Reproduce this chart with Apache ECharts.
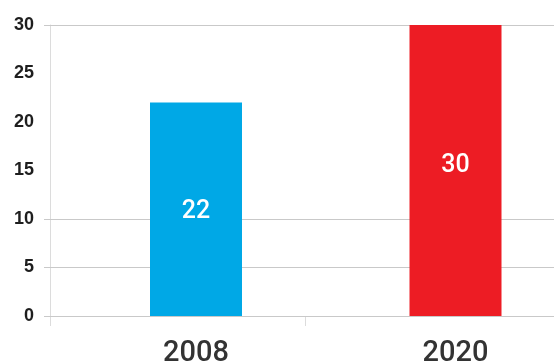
<!DOCTYPE html>
<html>
<head>
<meta charset="utf-8">
<script src="https://cdn.jsdelivr.net/npm/echarts@6/dist/echarts.min.js"></script>
<style>
  html, body { margin: 0; padding: 0; background: #fff; }
  #chart { width: 554px; height: 363px; }
</style>
</head>
<body>
<div id="chart"></div>
<script>
// Chart data
const categories = ['2008', '2020'];
const values = [22, 30];
const barColors = ['#00a8e6', '#ed1c24'];
const yTicks = [0, 5, 10, 15, 20, 25, 30];
// horizontal rules are drawn only at these values
const shownGridValues = [0, 5, 10, 30];

const yMin = yTicks[0];
const yMax = yTicks[yTicks.length - 1];
const yStep = yTicks[1] - yTicks[0];

const chart = echarts.init(document.getElementById('chart'), null, { renderer: 'canvas' });

const labelOffsets = [[0, 2], [0, -5]];

const hiddenY = (gridIndex) => ({
  type: 'value', gridIndex, min: yMin, max: yMax, interval: yStep,
  show: false, splitLine: { show: false }
});

chart.setOption({
  animation: false,
  backgroundColor: '#ffffff',
  grid: [
    // horizontal rules and value labels
    { left: 44, right: 0, top: 25, bottom: 47, outerBoundsMode: 'none' },
    // category boundary ticks
    { left: 50.5, right: -6.5, top: 25, bottom: 47, outerBoundsMode: 'none' },
    // bars and year labels
    { left: 66.25, right: -31.25, top: 25, bottom: 47, outerBoundsMode: 'none' }
  ],
  xAxis: [
    { type: 'category', gridIndex: 0, data: categories, show: false },
    {
      type: 'category', gridIndex: 1, data: categories,
      axisLine: { show: false },
      axisLabel: { show: false },
      axisTick: { show: true, length: 10, lineStyle: { color: '#dcdcdc', width: 1 } },
      splitLine: { show: false }
    },
    {
      type: 'category', gridIndex: 2, data: categories,
      axisLine: { show: false },
      axisTick: { show: false },
      splitLine: { show: false },
      axisLabel: {
        margin: 23,
        fontSize: 29,
        fontFamily: 'Roboto',
        fontWeight: 500,
        color: '#333333'
      }
    }
  ],
  yAxis: [
    {
      type: 'value', gridIndex: 0, min: yMin, max: yMax, interval: yStep,
      offset: -6.5,
      axisLine: { show: true, lineStyle: { color: '#dcdcdc', width: 1 } },
      axisTick: { show: false },
      splitLine: { show: false },
      axisLabel: {
        margin: 16.5,
        fontSize: 18,
        fontWeight: 'bold',
        fontFamily: 'Liberation Sans',
        color: '#1e1e1e',
        padding: [0, 0, 10, 0]
      }
    },
    hiddenY(1),
    hiddenY(2)
  ],
  series: [
    {
      // carrier for the horizontal rules
      type: 'line',
      xAxisIndex: 0,
      yAxisIndex: 0,
      data: [null, null],
      silent: true,
      z: 1,
      markLine: {
        silent: true,
        z: 1,
        symbol: 'none',
        animation: false,
        label: { show: false },
        lineStyle: { type: 'solid', color: '#c9c9c9', width: 1 },
        emphasis: { disabled: true },
        data: shownGridValues.map(v => ({ yAxis: v }))
      }
    },
    {
      type: 'bar',
      xAxisIndex: 2,
      yAxisIndex: 2,
      barWidth: 92,
      z: 4,
      data: values.map((v, i) => ({
        value: v,
        itemStyle: { color: barColors[i] },
        label: { offset: labelOffsets[i] }
      })),
      label: {
        show: true,
        position: 'inside',
        color: '#ffffff',
        fontSize: 25,
        fontFamily: 'Roboto',
        fontWeight: 500
      }
    }
  ]
});
</script>
</body>
</html>
